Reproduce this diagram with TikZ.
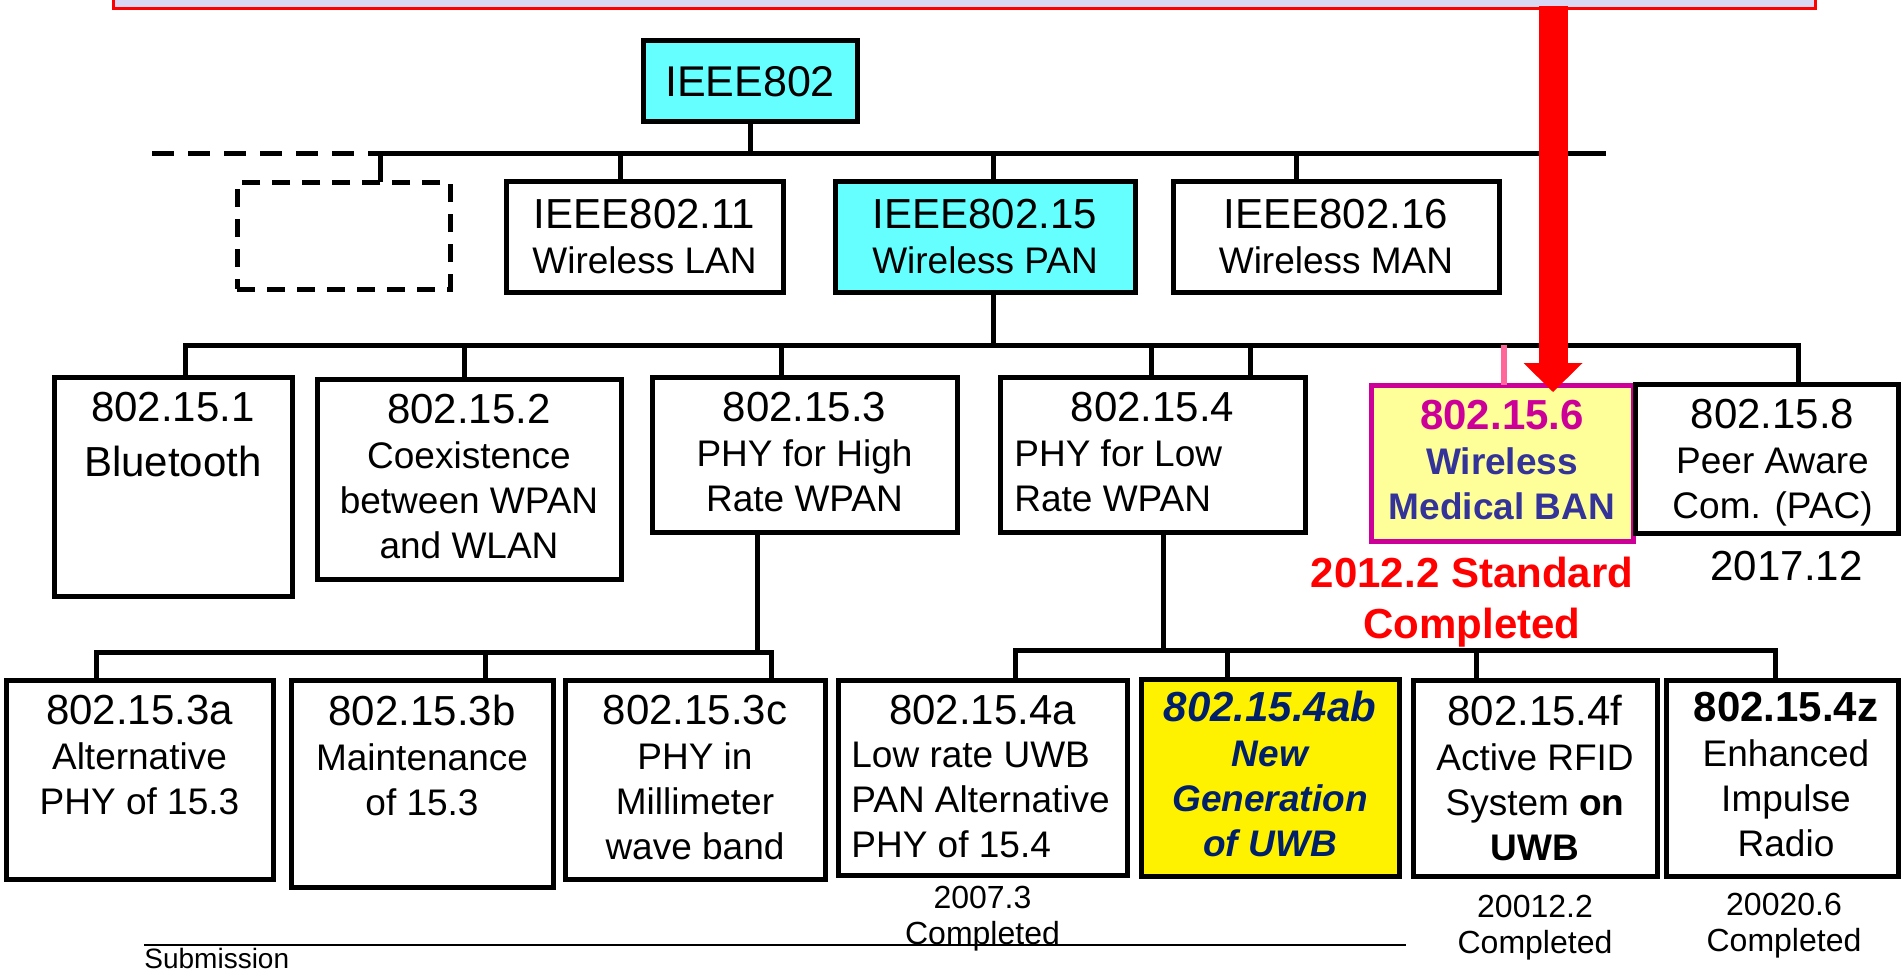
\documentclass[tikz,border=0pt]{standalone}
\usepackage{fontspec}
\setmainfont{Liberation Sans}
\usetikzlibrary{arrows.meta, positioning, fit}
\definecolor{pancyan}{HTML}{66FFFF}
\definecolor{banfill}{HTML}{FFFF99}
\definecolor{banedge}{HTML}{CC0099}
\definecolor{bantext}{HTML}{333399}
\definecolor{uwbtext}{HTML}{00206A}
\definecolor{toplav}{HTML}{D8D8F4}
\definecolor{droppink}{HTML}{FF6699}
\newcommand{\fhead}{\fontsize{21}{24}\selectfont}
\newcommand{\fbody}{\fontsize{18.5}{22.5}\selectfont}
\newcommand{\fdate}{\fontsize{16}{18}\selectfont}
\tikzset{
  box/.style={rectangle, draw, line width=2.5pt, inner sep=0pt, outer sep=0pt},
  hot/.style={box, fill=pancyan},
  ghost/.style={box, dash pattern=on 9pt off 6pt},
  ban/.style={box, draw=banedge, fill=banfill},
  uwb/.style={box, fill=yellow},
  txt/.style={inner sep=0pt, align=center, font=\fbody},
  lefttxt/.style={txt, align=left},
  date/.style={inner sep=0pt, align=center, font=\fdate},
  link/.style={line width=2.5pt, line join=miter},
  dlink/.style={link, dash pattern=on 11pt off 7pt},
}

\begin{document}
\begin{tikzpicture}[x=0.5pt, y=-0.5pt]
  \useasboundingbox (0,0) rectangle (1901,974);

  % banner cut by the top edge
  \node[fill=toplav, draw=red, line width=1.5pt, inner sep=0pt, outer sep=0pt,
        fit={(113,-30) (1815,9)}] (banner) {};

  % top level
  \node[hot, fit={(643,41) (857,122)}] (ieee) {};
  \node[ghost, fit={(237,182) (450,289)}] (spare) {};
  \node[box, fit={(506,181) (783,292)}] (lan) {};
  \node[hot, fit={(835,181) (1135,292)}] (pan) {};
  \node[box, fit={(1173,181) (1499,292)}] (man) {};
  \node[txt, font=\fontsize{21.5}{24}\selectfont] (ieeet) at (ieee.center) {IEEE802};
  \node[txt] (lant) at (lan.center) {{\fhead IEEE802.11}\\Wireless LAN};
  \node[txt] (pant) at (pan.center) {{\fhead IEEE802.15}\\Wireless PAN};
  \node[txt] (mant) at (man.center) {{\fhead IEEE802.16}\\Wireless MAN};

  \coordinate (w1) at (152,154);
  \coordinate (m1) at (380,154);
  \coordinate (e1) at (1606,154);
  \coordinate (k11) at (620,154);
  \coordinate (k12) at (993,154);
  \coordinate (k13) at (1296,154);
  \draw[dlink] (w1) -- (m1);
  \draw[link] (m1) -- (e1);
  \draw[link] (ieee) -- (ieee |- m1);
  \draw[link] (m1) -- (m1 |- spare.north);
  \draw[link] (k11) -- (k11 |- lan.north);
  \draw[link] (k12) -- (k12 |- pan.north);
  \draw[link] (k13) -- (k13 |- man.north);

  % 802.15 groups
  \node[box, fit={(54,377) (292,596)}] (s1) {};
  \node[box, fit={(317,379) (621,579)}] (s2) {};
  \node[box, fit={(652,377) (957,532)}] (s3) {};
  \node[box, fit={(1000,377) (1305,532)}] (s4) {};
  \node[ban, fit={(1371,385) (1633,541)}] (s6) {};
  \node[box, fit={(1635,384) (1898,533)}] (s8) {};

  \node[txt, below=7.5pt of s1.north] (s1t) {{\fhead 802.15.1}\\[5pt]{\fhead Bluetooth}};
  \node[txt, below=7.5pt of s2.north] (s2t) {{\fhead 802.15.2}\\Coexistence\\between WPAN\\and WLAN};
  \node[txt, below=7.5pt of s3.north] (s3t) {{\fhead 802.15.3}\\PHY for High\\Rate WPAN};
  \node[txt, below=7.5pt of s4.north, font=\fhead] (s4t) {802.15.4};
  \node[lefttxt, anchor=north west] (s4d) at ([xshift=7pt, yshift=-31pt]s4.north west)
    {PHY for Low\\Rate WPAN};
  \node[txt, below=7.5pt of s6.north] (s6t)
    {{\fhead\bfseries\color{banedge}802.15.6}\\{\bfseries\color{bantext}Wireless}\\{\bfseries\color{bantext}Medical BAN}};
  \node[txt, below=7.5pt of s8.north, xshift=3pt] (s8t) {{\fhead 802.15.8}\\Peer Aware\\Com. (PAC)};

  \coordinate (w2) at (185,345);
  \coordinate (e2) at (1798,345);
  \coordinate (k22) at (464,345);
  \coordinate (k23) at (781,345);
  \coordinate (k24) at (1151,345);
  \coordinate (k25) at (1250,345);
  \coordinate (k26) at (1504,345);
  \draw[link] (k12 |- pan.south) -- (k12 |- w2);
  \draw[link] (w2 |- s1.north) -- (w2) -- (e2) -- (e2 |- s8.north);
  \draw[link] (k22) -- (k22 |- s2.north);
  \draw[link] (k23) -- (k23 |- s3.north);
  \draw[link] (k24) -- (k24 |- s4.north);
  \draw[link] (k25) -- (k25 |- s4.north);
  \draw[droppink, line width=3pt] (k26) -- (k26 |- s6.north);

  \node[txt, font=\fhead\bfseries, text=red, below=8pt of s6.south, xshift=-15pt] (s6d)
    {2012.2 Standard\\[1.5pt]Completed};
  \node[txt, font=\fhead, below=9pt of s8.south, xshift=10pt] (s8d) {2017.12};

  % 802.15.3 and 802.15.4 groups
  \node[box, fit={(6,680) (273,879)}] (t3a) {};
  \node[box, fit={(291,680) (553,887)}] (t3b) {};
  \node[box, fit={(565,680) (825,879)}] (t3c) {};
  \node[box, fit={(838,680) (1127,875)}] (t4a) {};
  \node[uwb, fit={(1141,679) (1399,876)}] (t4ab) {};
  \node[box, fit={(1413,680) (1657,876)}] (t4f) {};
  \node[box, fit={(1666,680) (1898,876)}] (t4z) {};

  \node[txt, below=7.5pt of t3a.north] (t3at) {{\fhead 802.15.3a}\\Alternative\\PHY of 15.3};
  \node[txt, below=7.5pt of t3b.north] (t3bt) {{\fhead 802.15.3b}\\Maintenance\\of 15.3};
  \node[txt, below=7.5pt of t3c.north] (t3ct) {{\fhead 802.15.3c}\\PHY in\\Millimeter\\wave band};
  \node[txt, below=7.5pt of t4a.north, font=\fhead] (t4at) {802.15.4a};
  \node[lefttxt, anchor=north west] (t4ad) at ([xshift=6.5pt, yshift=-31pt]t4a.north west)
    {Low rate UWB\\PAN Alternative\\PHY of 15.4};
  \node[txt, below=6pt of t4ab.north, text=uwbtext] (t4abt)
    {{\fhead\bfseries\itshape 802.15.4ab}\\{\bfseries\itshape New}\\{\bfseries\itshape Generation}\\{\bfseries\itshape of UWB}};
  \node[txt, below=7.5pt of t4f.north] (t4ft) {{\fhead 802.15.4f}\\Active RFID\\System \textbf{on}\\\textbf{UWB}};
  \node[txt, below=6pt of t4z.north, xshift=2pt] (t4zt) {{\fhead\bfseries 802.15.4z}\\Enhanced\\Impulse\\Radio};

  \coordinate (k3) at (757,652);
  \coordinate (w3) at (96,652);
  \coordinate (e3) at (771,652);
  \coordinate (k32) at (485,652);
  \draw[link] (k3 |- s3.south) -- (k3);
  \draw[link] (w3 |- t3a.north) -- (w3) -- (e3) -- (e3 |- t3c.north);
  \draw[link] (k32) -- (k32 |- t3b.north);

  \coordinate (k4) at (1163,650);
  \coordinate (w4) at (1015,650);
  \coordinate (e4) at (1775,650);
  \coordinate (k42) at (1227,650);
  \coordinate (k43) at (1476,650);
  \draw[link] (k4 |- s4.south) -- (k4);
  \draw[link] (w4 |- t4a.north) -- (w4) -- (e4) -- (e4 |- t4z.north);
  \draw[link] (k42) -- (k42 |- t4ab.north);
  \draw[link] (k43) -- (k43 |- t4f.north);

  \node[date, below=5.5pt of t4a.south] (t4ad2) {2007.3\\Completed};
  \node[date, below=9.5pt of t4f.south] (t4fd) {20012.2\\Completed};
  \node[date, below=8.5pt of t4z.south, xshift=1pt] (t4zd) {20020.6\\Completed};

  % footer
  \coordinate (f1) at (144,945);
  \coordinate (f2) at (1406,945);
  \draw[line width=1.2pt] (f1) -- (f2);
  \node[anchor=north west, inner sep=0pt, font=\fontsize{14}{16}\selectfont] (sub)
    at ([yshift=-1.5pt]f1) {Submission};

  % red arrow from the banner
  \coordinate (a0) at (1553,6);
  \coordinate (a1) at (1553,392);
  \draw[red, line width=14.5pt,
        -{Triangle[width=29.5pt, length=14.5pt, line width=0pt]}]
    (a0) -- (a1);
\end{tikzpicture}
\end{document}
